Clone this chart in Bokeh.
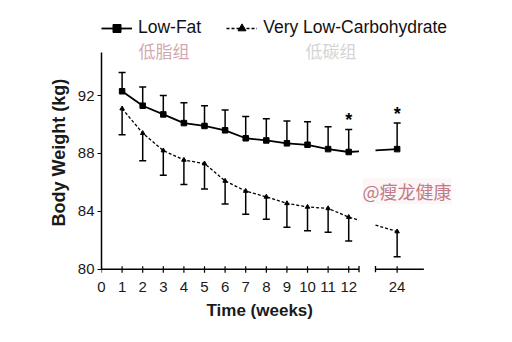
from bokeh.plotting import figure
from bokeh.models import (ColumnDataSource, Whisker, TeeHead, FixedTicker, Legend,
                          LegendItem, Label, Title)
from bokeh.core.properties import value
from bokeh.embed import file_html
from bokeh.resources import INLINE

# ---- data ----
weeks = [1, 2, 3, 4, 5, 6, 7, 8, 9, 10, 11, 12, 24]
lf_mean = [92.3, 91.3, 90.7, 90.1, 89.9, 89.6, 89.05, 88.9, 88.7, 88.6, 88.3, 88.1, 88.3]
lf_err = [1.3, 1.3, 1.3, 1.4, 1.4, 1.4, 1.5, 1.5, 1.55, 1.6, 1.55, 1.55, 1.8]
vlc_mean = [91.1, 89.4, 88.2, 87.55, 87.3, 86.1, 85.4, 85.0, 84.55, 84.3, 84.2, 83.6, 82.6]
vlc_err = [1.8, 1.9, 1.7, 1.7, 1.75, 1.6, 1.6, 1.55, 1.65, 1.65, 1.65, 1.65, 1.75]
sig_weeks = [12, 24]
x_tick_weeks = [0, 1, 2, 3, 4, 5, 6, 7, 8, 9, 10, 11, 12, 24]
y_ticks = [80, 84, 88, 92]

# ---- broken-axis layout ----
BREAK_POS = 14.35        # display position of week 24
GAP_L, GAP_R = 12.5, 13.3
X_END = 15.65
Y_MIN, Y_MAX = 80, 95


def xpos(w):
    return w if w <= 12 else BREAK_POS


def stub(y12, y24, x):
    return y12 + (y24 - y12) * (x - 12) / (BREAK_POS - 12)


xp = [xpos(w) for w in weeks]

p = figure(width=512, height=342, output_backend="svg", toolbar_location=None,
           x_range=(0, 19.95), y_range=(79.7, 97.4),
           min_border_left=101, min_border_right=0, min_border_top=17,
           min_border_bottom=69)
p.outline_line_color = None
p.grid.visible = False
p.background_fill_color = "white"

# lines
lf_x = xp[:12] + [GAP_L]
lf_y = lf_mean[:12] + [stub(lf_mean[11], lf_mean[12], GAP_L)]
vlc_y = vlc_mean[:12] + [stub(vlc_mean[11], vlc_mean[12], GAP_L)]
lf_line = p.line(lf_x, lf_y, line_color="black", line_width=1.8)
p.line([GAP_R, xp[12]], [stub(lf_mean[11], lf_mean[12], GAP_R), lf_mean[12]],
       line_color="black", line_width=1.8)
vlc_line = p.line(lf_x, vlc_y, line_color="black", line_width=1.3, line_dash="3 2")
p.line([GAP_R, xp[12]], [stub(vlc_mean[11], vlc_mean[12], GAP_R), vlc_mean[12]],
       line_color="black", line_width=1.3, line_dash="3 2")

# error bars (one-sided)
src = ColumnDataSource(dict(
    x=xp,
    lf=lf_mean, lf_up=[m + e for m, e in zip(lf_mean, lf_err)],
    vlc=vlc_mean, vlc_lo=[m - e for m, e in zip(vlc_mean, vlc_err)],
))
p.add_layout(Whisker(source=src, base="x", lower="lf", upper="lf_up", dimension="height",
                     line_color="black", line_width=1.5, lower_head=None,
                     upper_head=TeeHead(size=7, line_color="black", line_width=1.5)))
p.add_layout(Whisker(source=src, base="x", lower="vlc_lo", upper="vlc", dimension="height",
                     line_color="black", line_width=1.5, upper_head=None,
                     lower_head=TeeHead(size=7, line_color="black", line_width=1.5)))

lf_sq = p.scatter(xp, lf_mean, marker="square", size=5.5, color="black")
vlc_tri = p.scatter(xp, vlc_mean, marker="triangle", size=4.5, color="black")

# significance stars
sx = [xpos(w) for w in sig_weeks]
sy = [lf_mean[weeks.index(w)] + lf_err[weeks.index(w)] + 0.65 for w in sig_weeks]
p.text(sx, sy, text=["*"] * len(sx), text_align="center", text_baseline="alphabetic",
       text_font=value("Liberation Sans"), text_font_size="18px", text_font_style="bold",
       text_color="black")

# broken x axis line, caps and ticks
p.segment(x0=[0, GAP_R], y0=[Y_MIN, Y_MIN], x1=[GAP_L, X_END], y1=[Y_MIN, Y_MIN],
          line_color="black", line_width=1.5)
p.segment(x0=[GAP_L, GAP_R], y0=[Y_MIN - 0.21] * 2, x1=[GAP_L, GAP_R], y1=[Y_MIN + 0.21] * 2,
          line_color="black", line_width=1.3)
tx = [xpos(w) for w in x_tick_weeks]
p.segment(x0=tx, y0=[Y_MIN - 0.25] * len(tx), x1=tx, y1=[Y_MIN + 0.2] * len(tx),
          line_color="black", line_width=1.2)

# axes
xa = p.xaxis[0]
xa.ticker = FixedTicker(ticks=tx)
xa.major_label_overrides = {t: str(w) for t, w in zip(tx, x_tick_weeks)}
xa.axis_line_color = None
xa.major_tick_line_color = None
xa.minor_tick_line_color = None
xa.major_label_standoff = 2
xa.major_label_text_font = "Liberation Sans"
xa.major_label_text_font_size = "15px"
xa.major_label_text_color = "#1a1a1a"

ya = p.yaxis[0]
ya.ticker = FixedTicker(ticks=y_ticks)
ya.bounds = (Y_MIN, Y_MAX)
ya.axis_line_color = "black"
ya.axis_line_width = 1.5
ya.major_tick_out = 4
ya.major_tick_in = 0
ya.major_tick_line_width = 1.2
ya.minor_tick_line_color = None
ya.major_label_standoff = 3
ya.major_label_text_font = "Liberation Sans"
ya.major_label_text_font_size = "15px"
ya.major_label_text_color = "#1a1a1a"

# axis titles (as side-panel titles so they can be positioned)
p.add_layout(Title(text="Time (weeks)", align="left", offset=105, standoff=8,
                   text_font="Liberation Sans", text_font_style="bold",
                   text_font_size="17px", text_color="#1a1a1a"), "below")
p.add_layout(Title(text="Body Weight (kg)", align="left", offset=47, standoff=11,
                   text_font="Liberation Sans", text_font_style="bold",
                   text_font_size="18px", text_color="#1a1a1a"), "left")

# legend
legend = Legend(items=[LegendItem(label="Low-Fat", renderers=[lf_line, lf_sq]),
                       LegendItem(label="Very Low-Carbohydrate", renderers=[vlc_line, vlc_tri])],
                location="top_left", orientation="horizontal", glyph_width=31,
                glyph_height=20, label_standoff=6, spacing=25, padding=0, margin=0,
                border_line_color=None, background_fill_alpha=0,
                label_text_font="Liberation Sans", label_text_font_size="17.5px",
                label_text_color="#111111")
p.add_layout(legend)

# watermark-style annotations
p.add_layout(Label(x=1.8, y=95.12, text="低脂组", text_font="Noto Sans CJK SC",
                   text_font_size="17px", text_color="#d2a9b1", text_baseline="middle"))
p.add_layout(Label(x=9.9, y=95.12, text="低碳组", text_font="Noto Sans CJK SC",
                   text_font_size="17px", text_color="#d4d4d4", text_baseline="middle"))
p.add_layout(Label(x=12.67, y=85.39, text="@瘦龙健康", text_font="Noto Sans CJK SC",
                   text_font_size="18px", text_color="#c07a88", text_baseline="middle",
                   background_fill_color="#fcf4f5", background_fill_alpha=0.8))

open("out.html", "w").write(file_html(p, INLINE))
